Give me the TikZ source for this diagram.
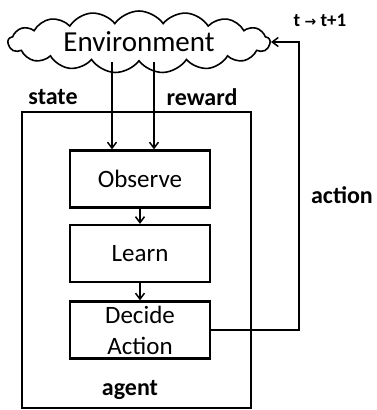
\documentclass[tikz,border=0pt]{standalone}
\usepackage{fontspec}
\setmainfont{Carlito}
\newfontfamily\arrowfont{DejaVu Sans}
\usetikzlibrary{shapes.symbols,arrows.meta}
\begin{document}
\begin{tikzpicture}[x=1pt,y=-1pt,
  box/.style={draw, line width=2.2pt, minimum width=140pt, minimum height=57pt, inner sep=0pt, font=\fontsize{25}{31}\selectfont, align=center},
  arr/.style={line width=1.8pt, -{Straight Barb[length=6pt,width=9pt,line width=1.5pt]}},
  lbl/.style={font=\fontsize{24}{26}\bfseries\selectfont, inner sep=0pt}]
\useasboundingbox (0,0) rectangle (376,410);
\node[cloud, draw, line width=1.6pt, cloud puffs=17, cloud puff arc=110, cloud ignores aspect,
      minimum width=262pt, minimum height=62pt, inner sep=0pt,
      font=\fontsize{29}{30}\selectfont] (env) at (139,42) {Environment};
\node[draw, line width=2.2pt, minimum width=229pt, minimum height=296pt, inner sep=0pt] (agent) at (136.5,260) {};
\node[box] (obs) at (140,179) {Observe};
\node[box] (lrn) at (140,253.5) {Learn};
\node[box] (dec) at (140,330) {Decide\\Action};
\draw[arr] ([xshift=-28pt]obs.north |- env.south) -- ([xshift=-28pt]obs.north);
\draw[arr] ([xshift=14pt]obs.north |- env.south) -- ([xshift=14pt]obs.north);
\draw[arr] (obs) -- (lrn);
\draw[arr] (lrn) -- (dec);
\coordinate (turn) at (299,42);
\draw[arr] (dec.east) -| (turn) -- (env.east);
\node[lbl] (st) at (53,97) {state};
\node[lbl] (rw) at (202,97) {reward};
\node[lbl] (ac) at (342,195) {action};
\node[lbl] (ag) at (130,390) {agent};
\node[font=\fontsize{19}{20}\bfseries\selectfont, inner sep=0pt] (tt) at (320,20) {t {\arrowfont\fontsize{14}{16}\selectfont →} t+1};
\end{tikzpicture}
\end{document}
